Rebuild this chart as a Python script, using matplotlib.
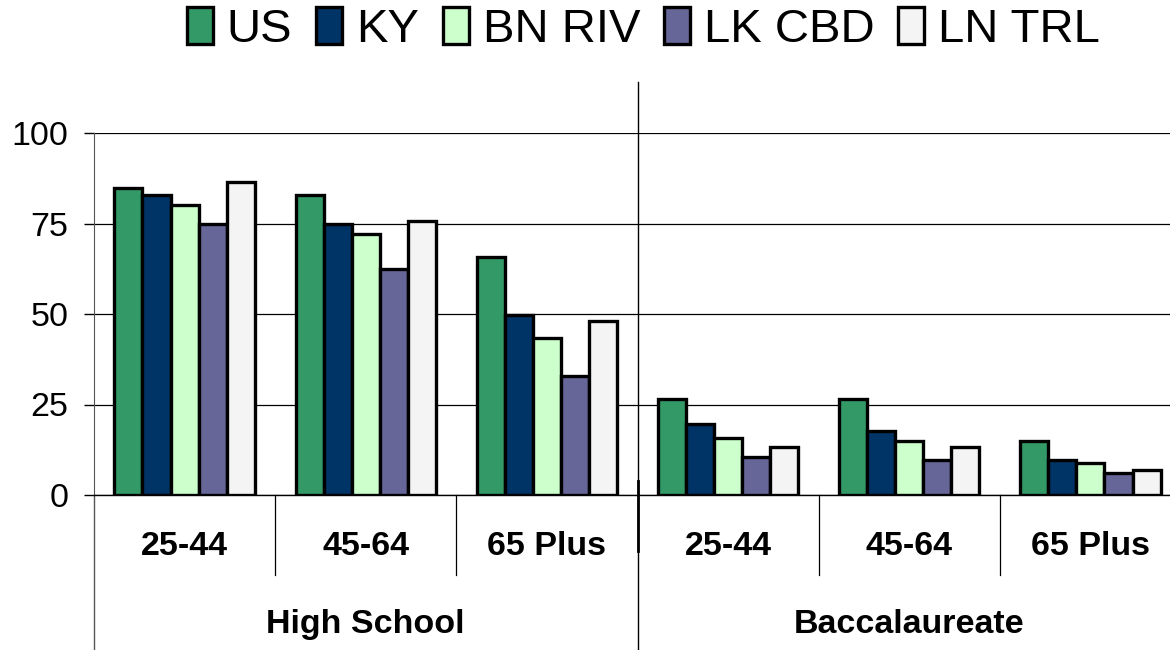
import matplotlib
matplotlib.use("Agg")
import numpy as np
import matplotlib.pyplot as plt
import matplotlib.transforms as transforms

plt.rcParams['font.family'] = ['Liberation Sans', 'DejaVu Sans']

# data
series = ["US", "KY", "BN RIV", "LK CBD", "LN TRL"]
colors = ["#339966", "#003366", "#CCFFCC", "#666699", "#F4F4F4"]
age_groups = ["25-44", "45-64", "65 Plus", "25-44", "45-64", "65 Plus"]
levels = ["High School", "Baccalaureate"]

us = [84.8, 83.0, 65.7, 26.5, 26.5, 14.9]
ky = [82.9, 75.0, 49.7, 19.6, 17.7, 9.7]
bn_riv = [80.1, 72.2, 43.4, 15.7, 14.9, 8.8]
lk_cbd = [74.9, 62.4, 32.9, 10.4, 9.7, 6.0]
ln_trl = [86.5, 75.8, 48.0, 13.2, 13.2, 6.9]
values = [us, ky, bn_riv, lk_cbd, ln_trl]

fig = plt.figure(figsize=(11.7, 6.5), dpi=100)
ax = fig.add_axes([94 / 1170, 155 / 650, 1087 / 1170, 362 / 650])

x = np.arange(len(age_groups))
w = 0.155
for i, (name, vals) in enumerate(zip(series, values)):
    ax.bar(x + (i - 2) * w, vals, w, color=colors[i], edgecolor="black",
           linewidth=2.4, label=name, zorder=3)

ax.set_xlim(-0.5, 5.5)
ax.set_ylim(0, 100)
ax.set_yticks([0, 25, 50, 75, 100])
ax.tick_params(axis="y", labelsize=24.5, length=7.5, width=1, direction="out", pad=11)
ax.set_xticks([])
ax.yaxis.grid(True, color="black", linewidth=0.9, zorder=0)
ax.set_axisbelow(True)

for s in ["top", "right"]:
    ax.spines[s].set_visible(False)
ax.spines["left"].set_color("#555555")
ax.spines["bottom"].set_linewidth(1.0)

# category labels and separators below the axis
trans = transforms.blended_transform_factory(ax.transData, ax.transAxes)
for i, lab in enumerate(age_groups):
    ax.text(i, -0.141, lab, transform=trans, ha="center", va="center",
            fontsize=24.5, fontweight="bold")
for b in [0.5, 1.5, 3.5, 4.5]:
    ax.plot([b, b], [0, -0.221], transform=trans, color="black",
            linewidth=0.9, clip_on=False)
ax.plot([-0.5, -0.5], [0, -0.428], transform=trans, color="#555555",
        linewidth=1.0, clip_on=False)
ax.plot([2.5, 2.5], [1.141, -0.428], transform=trans, color="black",
        linewidth=1.0, clip_on=False)
ax.plot([2.5, 2.5], [0.04, -0.155], transform=trans, color="black",
        linewidth=2.0, clip_on=False)

for j, lab in enumerate(levels):
    ax.text(1 + 3 * j, -0.359, lab, transform=trans, ha="center", va="center",
            fontsize=24.5, fontweight="bold")

fig.legend(loc="center", bbox_to_anchor=(0.55, 0.955), ncol=5, frameon=False,
           prop={'size': 34},
           handlelength=0.55, handleheight=0.85, handletextpad=0.3,
           columnspacing=0.5, borderpad=0)

fig.savefig("out.png", dpi=100)
